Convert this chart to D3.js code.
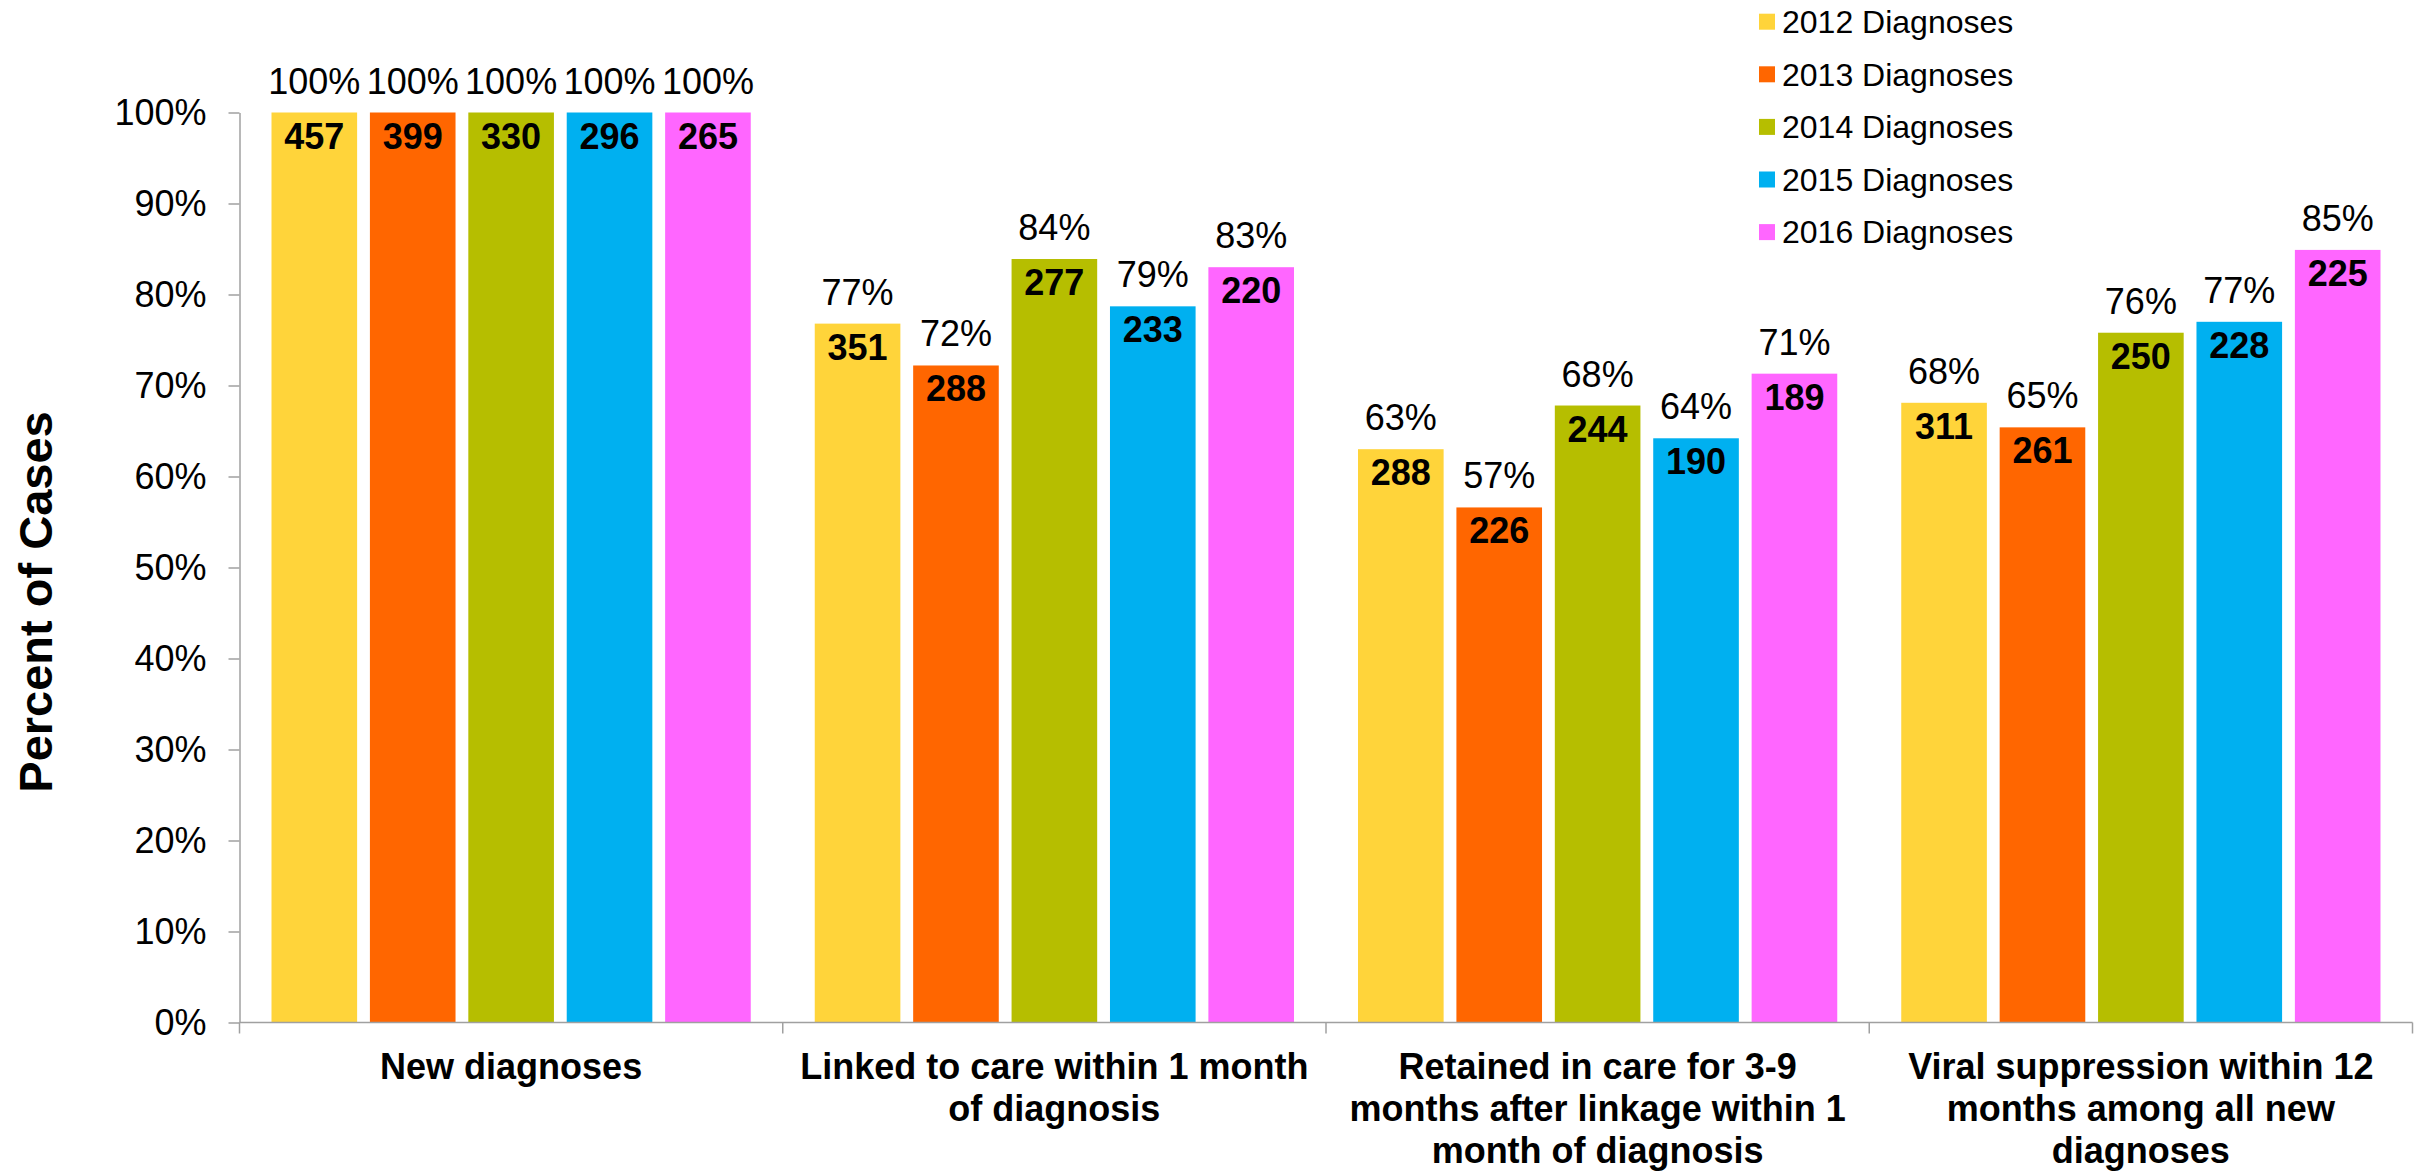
<!DOCTYPE html>
<html>
<head>
<meta charset="utf-8">
<script src="https://cdn.jsdelivr.net/npm/d3@7"></script>
<style>
    body { margin: 0; background: #fff; }
    svg { display: block; font-family: 'Liberation Sans', Arial, sans-serif; }
</style>
</head>
<body>
<svg id="grafiek" width="2427" height="1174"></svg>
<script>
const CATEGORIEEN = ['new', 'linked', 'retained', 'viral'];
const CATEGORIE_REGELS = [
    ['New diagnoses'],
    ['Linked to care within 1 month', 'of diagnosis'],
    ['Retained in care for 3-9', 'months after linkage within 1', 'month of diagnosis'],
    ['Viral suppression within 12', 'months among all new', 'diagnoses'],
];

const JAREN = ['2012 Diagnoses', '2013 Diagnoses', '2014 Diagnoses', '2015 Diagnoses', '2016 Diagnoses'];

// percentage per categorie, per jaar
const PROCENT_2012 = [100, 76.8, 63.0, 68.1];
const PROCENT_2013 = [100, 72.2, 56.6, 65.4];
const PROCENT_2014 = [100, 83.9, 67.8, 75.8];
const PROCENT_2015 = [100, 78.7, 64.2, 77.0];
const PROCENT_2016 = [100, 83.0, 71.3, 84.9];

// aantallen in de balken
const AANTAL_2012 = [457, 351, 288, 311];
const AANTAL_2013 = [399, 288, 226, 261];
const AANTAL_2014 = [330, 277, 244, 250];
const AANTAL_2015 = [296, 233, 190, 228];
const AANTAL_2016 = [265, 220, 189, 225];

const Y_TICKS = [0, 10, 20, 30, 40, 50, 60, 70, 80, 90, 100];

const PROCENTEN = [PROCENT_2012, PROCENT_2013, PROCENT_2014, PROCENT_2015, PROCENT_2016];
const AANTALLEN = [AANTAL_2012, AANTAL_2013, AANTAL_2014, AANTAL_2015, AANTAL_2016];
const KLEUREN = ['#FFD43A', '#FF6600', '#B6BE00', '#00B0F0', '#FF66FF'];
const ASKLEUR = '#A0A0A0';

const svg = d3.select('#grafiek');

const links = 239.5;
const rechts = 2412.5;
const onder = 1022.5;
const boven = 112.5;

const x0 = d3.scaleBand()
    .domain(CATEGORIEEN)
    .range([links, rechts])
    .padding(0);

const x1 = d3.scaleBand()
    .domain(JAREN)
    .range([32, x0.bandwidth() - 32])
    .paddingInner(0.13);

const y = d3.scaleLinear()
    .domain([0, 100])
    .range([onder, boven]);

const kleur = d3.scaleOrdinal().domain(JAREN).range(KLEUREN);

// balken + labels
CATEGORIEEN.forEach((cat, ci) => {
    const groep = svg.append('g').attr('transform', `translate(${x0(cat)},0)`);
    JAREN.forEach((jaar, ji) => {
        const waarde = PROCENTEN[ji][ci];
        const xm = x1(jaar) + x1.bandwidth() / 2;

        groep.append('rect')
            .attr('x', x1(jaar))
            .attr('y', y(waarde))
            .attr('width', x1.bandwidth())
            .attr('height', y(0) - y(waarde))
            .attr('fill', kleur(jaar));

        groep.append('text')
            .attr('x', xm)
            .attr('y', y(waarde) - 19)
            .attr('text-anchor', 'middle')
            .style('font-size', '36px')
            .style('fill', '#000')
            .text(`${Math.round(waarde)}%`);

        groep.append('text')
            .attr('x', xm)
            .attr('y', y(waarde) + 36)
            .attr('text-anchor', 'middle')
            .style('font-size', '36px')
            .style('font-weight', 'bold')
            .style('fill', '#000')
            .text(AANTALLEN[ji][ci]);
    });
});

// y-as
const yAs = svg.append('g')
    .attr('transform', `translate(${links},0)`)
    .call(d3.axisLeft(y)
        .tickValues(Y_TICKS)
        .tickSize(11)
        .tickSizeOuter(0)
        .tickPadding(22)
        .tickFormat(d => `${d}%`));
yAs.select('.domain').attr('stroke', ASKLEUR).attr('stroke-width', 1.5);
yAs.selectAll('.tick line').attr('stroke', ASKLEUR).attr('stroke-width', 1.5);
yAs.selectAll('.tick text')
    .style('font-size', '36px')
    .style('font-family', "'Liberation Sans', Arial, sans-serif")
    .attr('fill', '#000');

// x-as
svg.append('line')
    .attr('x1', links).attr('x2', rechts)
    .attr('y1', onder).attr('y2', onder)
    .attr('stroke', ASKLEUR).attr('stroke-width', 1.5);

const grenzen = CATEGORIEEN.map(c => x0(c)).concat([x0.range()[1]]);
svg.selectAll('.grens')
    .data(grenzen)
    .join('line')
    .attr('class', 'grens')
    .attr('x1', d => d).attr('x2', d => d)
    .attr('y1', onder).attr('y2', onder + 11)
    .attr('stroke', ASKLEUR).attr('stroke-width', 1.5);

CATEGORIEEN.forEach((cat, ci) => {
    const t = svg.append('text')
        .attr('x', x0(cat) + x0.bandwidth() / 2)
        .attr('y', 1079)
        .attr('text-anchor', 'middle')
        .style('font-size', '36px')
        .style('font-weight', 'bold')
        .style('fill', '#000');
    CATEGORIE_REGELS[ci].forEach((regel, ri) => {
        t.append('tspan')
            .attr('x', x0(cat) + x0.bandwidth() / 2)
            .attr('dy', ri === 0 ? 0 : 42)
            .text(regel);
    });
});

// y-as titel
svg.append('text')
    .attr('transform', 'translate(52,602) rotate(-90)')
    .attr('text-anchor', 'middle')
    .style('font-size', '47px')
    .style('font-weight', 'bold')
    .style('fill', '#000')
    .text('Percent of Cases');

// legenda
const legenda = svg.append('g').attr('transform', 'translate(1759,21.7)');
JAREN.forEach((jaar, i) => {
    const rij = legenda.append('g').attr('transform', `translate(0,${i * 52.6})`);
    rij.append('rect')
        .attr('x', 0).attr('y', -8)
        .attr('width', 16).attr('height', 16)
        .attr('fill', kleur(jaar));
    rij.append('text')
        .attr('x', 23)
        .attr('dy', '0.35em')
        .style('font-size', '32px')
        .style('fill', '#000')
        .text(jaar);
});
</script>
</body>
</html>
